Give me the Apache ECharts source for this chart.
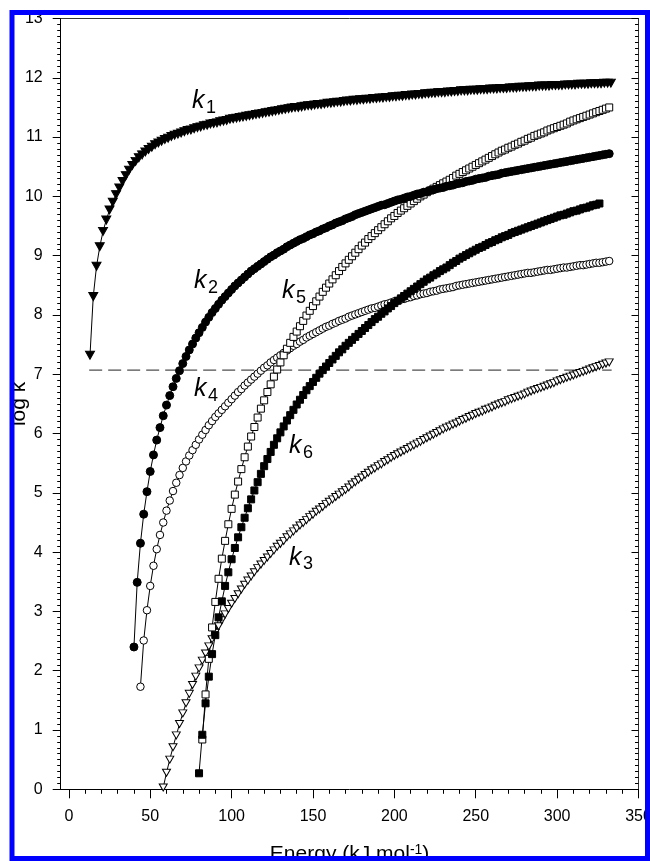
<!DOCTYPE html>
<html>
<head>
<meta charset="utf-8">
<script src="https://cdn.jsdelivr.net/npm/echarts@6/dist/echarts.min.js"></script>
<style>
html,body{margin:0;padding:0;background:#fff;}
#c{width:650px;height:861px;}
</style>
</head>
<body>
<div id="c"></div>
<script>
// ---------------- data ----------------
const energyStep = 2; // kJ/mol between successive computed points

const k1Start = 13;
const k1Values = [
 7.32, 8.31, 8.82, 9.15, 9.41, 9.60, 9.77, 9.90, 10.03, 10.14,
 10.25, 10.35, 10.44, 10.52, 10.59, 10.65, 10.70, 10.75, 10.79, 10.83,
 10.87, 10.90, 10.93, 10.96, 10.98, 11.01, 11.03, 11.05, 11.07, 11.09,
 11.11, 11.12, 11.14, 11.16, 11.17, 11.19, 11.20, 11.22, 11.23, 11.24,
 11.26, 11.27, 11.28, 11.30, 11.31, 11.32, 11.33, 11.34, 11.35, 11.36,
 11.37, 11.38, 11.39, 11.40, 11.41, 11.42, 11.43, 11.44, 11.45, 11.46,
 11.47, 11.48, 11.49, 11.50, 11.50, 11.51, 11.52, 11.53, 11.53, 11.54,
 11.55, 11.55, 11.56, 11.57, 11.57, 11.58, 11.59, 11.59, 11.60, 11.61,
 11.61, 11.62, 11.62, 11.63, 11.63, 11.64, 11.64, 11.65, 11.65, 11.66,
 11.66, 11.67, 11.67, 11.68, 11.68, 11.69, 11.69, 11.70, 11.70, 11.71,
 11.71, 11.72, 11.72, 11.73, 11.73, 11.74, 11.74, 11.75, 11.75, 11.75,
 11.76, 11.76, 11.77, 11.77, 11.78, 11.78, 11.78, 11.79, 11.79, 11.79,
 11.80, 11.80, 11.80, 11.81, 11.81, 11.81, 11.82, 11.82, 11.82, 11.83,
 11.83, 11.83, 11.84, 11.84, 11.84, 11.85, 11.85, 11.85, 11.86, 11.86,
 11.86, 11.86, 11.87, 11.87, 11.87, 11.87, 11.88, 11.88, 11.88, 11.88,
 11.89, 11.89, 11.89, 11.89, 11.90, 11.90, 11.90, 11.90, 11.91, 11.91,
 11.91
];

const k2Start = 40;
const k2Values = [
 2.40, 3.49, 4.15, 4.64, 5.02, 5.36, 5.64, 5.89, 6.10, 6.30,
 6.48, 6.64, 6.79, 6.93, 7.06, 7.18, 7.30, 7.41, 7.51, 7.61,
 7.70, 7.79, 7.88, 7.96, 8.04, 8.11, 8.18, 8.25, 8.31, 8.37,
 8.43, 8.49, 8.54, 8.59, 8.64, 8.69, 8.74, 8.78, 8.82, 8.86,
 8.90, 8.94, 8.98, 9.01, 9.05, 9.08, 9.11, 9.15, 9.18, 9.21,
 9.24, 9.27, 9.29, 9.32, 9.35, 9.37, 9.40, 9.42, 9.45, 9.47,
 9.50, 9.52, 9.55, 9.57, 9.59, 9.62, 9.64, 9.66, 9.69, 9.71,
 9.73, 9.75, 9.77, 9.79, 9.81, 9.83, 9.85, 9.86, 9.88, 9.90,
 9.92, 9.94, 9.95, 9.97, 9.99, 10.00, 10.02, 10.04, 10.05, 10.07,
 10.08, 10.10, 10.11, 10.13, 10.14, 10.15, 10.17, 10.18, 10.19, 10.21,
 10.22, 10.23, 10.25, 10.26, 10.27, 10.29, 10.30, 10.31, 10.32, 10.34,
 10.35, 10.36, 10.37, 10.39, 10.40, 10.41, 10.42, 10.43, 10.44, 10.45,
 10.46, 10.47, 10.48, 10.49, 10.50, 10.51, 10.52, 10.53, 10.54, 10.55,
 10.56, 10.57, 10.58, 10.59, 10.60, 10.61, 10.62, 10.63, 10.64, 10.65,
 10.66, 10.67, 10.68, 10.69, 10.70, 10.71, 10.72
];

const k3Start = 58;
const k3Values = [
 0.03, 0.28, 0.50, 0.71, 0.91, 1.10, 1.28, 1.45, 1.61, 1.76,
 1.90, 2.04, 2.17, 2.29, 2.41, 2.53, 2.64, 2.75, 2.85, 2.95,
 3.04, 3.13, 3.21, 3.29, 3.37, 3.45, 3.52, 3.59, 3.66, 3.73,
 3.79, 3.85, 3.91, 3.97, 4.03, 4.09, 4.14, 4.19, 4.25, 4.30,
 4.35, 4.40, 4.45, 4.49, 4.54, 4.59, 4.63, 4.68, 4.72, 4.76,
 4.81, 4.85, 4.89, 4.93, 4.97, 5.01, 5.05, 5.09, 5.14, 5.18,
 5.22, 5.26, 5.30, 5.34, 5.38, 5.41, 5.45, 5.48, 5.52, 5.55,
 5.59, 5.62, 5.65, 5.68, 5.71, 5.74, 5.77, 5.80, 5.83, 5.86,
 5.89, 5.92, 5.95, 5.98, 6.01, 6.04, 6.07, 6.10, 6.12, 6.15,
 6.17, 6.20, 6.23, 6.25, 6.28, 6.30, 6.33, 6.35, 6.37, 6.40,
 6.42, 6.44, 6.47, 6.49, 6.51, 6.53, 6.56, 6.58, 6.60, 6.62,
 6.64, 6.66, 6.69, 6.71, 6.73, 6.75, 6.77, 6.79, 6.81, 6.83,
 6.85, 6.88, 6.90, 6.92, 6.94, 6.96, 6.98, 7.00, 7.02, 7.04,
 7.06, 7.08, 7.10, 7.12, 7.14, 7.16, 7.18, 7.20
];

const k4Start = 44;
const k4Values = [
 1.73, 2.51, 3.02, 3.43, 3.77, 4.05, 4.29, 4.50, 4.70, 4.87,
 5.03, 5.17, 5.30, 5.42, 5.53, 5.63, 5.72, 5.81, 5.90, 5.98,
 6.06, 6.14, 6.21, 6.28, 6.34, 6.40, 6.46, 6.52, 6.58, 6.64,
 6.70, 6.75, 6.81, 6.86, 6.91, 6.96, 7.01, 7.06, 7.11, 7.15,
 7.20, 7.24, 7.28, 7.32, 7.36, 7.40, 7.44, 7.48, 7.51, 7.55,
 7.58, 7.62, 7.65, 7.68, 7.71, 7.74, 7.77, 7.80, 7.82, 7.85,
 7.87, 7.90, 7.92, 7.94, 7.97, 7.99, 8.01, 8.03, 8.05, 8.07,
 8.09, 8.11, 8.12, 8.14, 8.16, 8.18, 8.19, 8.21, 8.23, 8.24,
 8.26, 8.27, 8.29, 8.30, 8.32, 8.33, 8.35, 8.36, 8.37, 8.39,
 8.40, 8.41, 8.43, 8.44, 8.45, 8.46, 8.47, 8.49, 8.50, 8.51,
 8.52, 8.53, 8.54, 8.55, 8.56, 8.57, 8.58, 8.59, 8.60, 8.61,
 8.62, 8.63, 8.64, 8.65, 8.66, 8.67, 8.68, 8.69, 8.70, 8.71,
 8.71, 8.72, 8.73, 8.74, 8.75, 8.76, 8.76, 8.77, 8.78, 8.79,
 8.80, 8.80, 8.81, 8.82, 8.83, 8.84, 8.84, 8.85, 8.86, 8.87,
 8.88, 8.88, 8.89, 8.90, 8.91
];

const k5Start = 82;
const k5Values = [
 0.84, 1.60, 2.20, 2.73, 3.16, 3.55, 3.89, 4.19, 4.47, 4.73,
 4.97, 5.19, 5.40, 5.60, 5.78, 5.95, 6.11, 6.27, 6.42, 6.56,
 6.70, 6.83, 6.96, 7.08, 7.20, 7.32, 7.43, 7.53, 7.63, 7.72,
 7.81, 7.90, 7.99, 8.07, 8.15, 8.23, 8.31, 8.39, 8.46, 8.53,
 8.60, 8.67, 8.74, 8.81, 8.87, 8.93, 8.99, 9.05, 9.11, 9.17,
 9.22, 9.28, 9.33, 9.38, 9.43, 9.48, 9.53, 9.58, 9.63, 9.67,
 9.72, 9.76, 9.80, 9.84, 9.88, 9.92, 9.96, 10.00, 10.03, 10.07,
 10.10, 10.13, 10.16, 10.19, 10.22, 10.25, 10.28, 10.31, 10.35, 10.38,
 10.41, 10.44, 10.47, 10.50, 10.53, 10.56, 10.59, 10.62, 10.65, 10.68,
 10.71, 10.74, 10.77, 10.79, 10.82, 10.84, 10.87, 10.89, 10.92, 10.94,
 10.97, 10.99, 11.02, 11.04, 11.06, 11.08, 11.11, 11.13, 11.15, 11.17,
 11.19, 11.21, 11.23, 11.26, 11.28, 11.30, 11.32, 11.34, 11.36, 11.38,
 11.40, 11.42, 11.44, 11.46, 11.48, 11.50
];

const k6Start = 80;
const k6Values = [
 0.27, 0.92, 1.45, 1.90, 2.28, 2.60, 2.90, 3.17, 3.43, 3.66,
 3.88, 4.07, 4.25, 4.42, 4.58, 4.74, 4.89, 5.04, 5.18, 5.32,
 5.45, 5.57, 5.69, 5.81, 5.92, 6.02, 6.12, 6.22, 6.31, 6.40,
 6.49, 6.57, 6.65, 6.73, 6.80, 6.87, 6.94, 7.01, 7.07, 7.13,
 7.19, 7.25, 7.31, 7.37, 7.42, 7.48, 7.53, 7.58, 7.63, 7.68,
 7.73, 7.78, 7.83, 7.88, 7.93, 7.97, 8.02, 8.06, 8.11, 8.15,
 8.20, 8.24, 8.28, 8.32, 8.36, 8.40, 8.44, 8.48, 8.52, 8.56,
 8.60, 8.63, 8.67, 8.70, 8.74, 8.77, 8.80, 8.84, 8.88, 8.91,
 8.95, 8.98, 9.01, 9.04, 9.07, 9.10, 9.13, 9.15, 9.18, 9.21,
 9.23, 9.26, 9.28, 9.31, 9.33, 9.35, 9.38, 9.40, 9.42, 9.44,
 9.46, 9.48, 9.50, 9.52, 9.54, 9.56, 9.58, 9.60, 9.62, 9.64,
 9.66, 9.68, 9.69, 9.71, 9.73, 9.75, 9.76, 9.78, 9.80, 9.81,
 9.83, 9.85, 9.86, 9.88
];

// horizontal dashed reference level (log k)
const thresholdLine = [[12.5, 7.07], [333.5, 7.07]];

// axis ticks
const xMajorTicks = [0, 50, 100, 150, 200, 250, 300, 350];
const xMinorTicks = [10, 20, 30, 40, 60, 70, 80, 90, 110, 120, 130, 140, 160, 170, 180, 190,
                     210, 220, 230, 240, 260, 270, 280, 290, 310, 320, 330, 340];
const xRange = [-5, 350];
const yRange = [0, 13];
const yInterval = 1;

// ---------------- chart ----------------
const FONT = '"Liberation Sans", Arial, sans-serif';
const INK = '#000';

function pairs(start, vals) {
  return vals.map((v, i) => [start + i * energyStep, v]);
}

function curve(name, start, vals, symbol, size, filled, rotate) {
  return {
    name: name,
    type: 'line',
    data: pairs(start, vals),
    symbol: symbol,
    symbolSize: size,
    symbolRotate: rotate || 0,
    showAllSymbol: true,
    silent: true,
    animation: false,
    clip: false,
    lineStyle: { color: INK, width: 1 },
    itemStyle: { color: filled ? INK : '#fff', borderColor: INK, borderWidth: 1 },
    emphasis: { disabled: true },
    z: 3
  };
}

const chart = echarts.init(document.getElementById('c'), null, { renderer: 'canvas' });

const labelSpecs = [
  { sub: '1', x: 192, y: 89 },
  { sub: '2', x: 194, y: 269 },
  { sub: '5', x: 282, y: 279 },
  { sub: '4', x: 194, y: 377 },
  { sub: '6', x: 289, y: 434 },
  { sub: '3', x: 289, y: 545.5 }
];
const labelGraphics = [];
labelSpecs.forEach(l => {
  labelGraphics.push({
    type: 'text', x: l.x, y: l.y, z: 50, silent: true,
    style: { text: 'k', fontSize: 25, fontStyle: 'italic', fontFamily: FONT, fill: INK, align: 'left', verticalAlign: 'top' }
  });
  labelGraphics.push({
    type: 'text', x: l.x + 14, y: l.y + 10, z: 50, silent: true,
    style: { text: l.sub, fontSize: 18, fontFamily: FONT, fill: INK, align: 'left', verticalAlign: 'top' }
  });
});

const option = {
  backgroundColor: '#fff',
  animation: false,
  grid: { left: 60.7, right: 11.5, top: 18.5, bottom: 71.7, containLabel: false, outerBoundsMode: 'none' },
  xAxis: [
    {
      type: 'value', min: xRange[0], max: xRange[1], position: 'bottom',
      axisLine: { show: true, onZero: false, lineStyle: { color: INK, width: 1 } },
      axisTick: { show: true, inside: false, length: 9, customValues: xMajorTicks, lineStyle: { color: INK, width: 1 } },
      axisLabel: { show: true, customValues: xMajorTicks, fontSize: 16, fontFamily: FONT, color: INK, margin: 19 },
      splitLine: { show: false },
      name: '{a|Energy (kJ mol}{b|-1}{a|)}',
      nameLocation: 'middle',
      nameGap: 54,
      nameMoveOverlap: false,
      nameTextStyle: {
        rich: {
          a: { fontSize: 21, fontFamily: FONT, color: INK },
          b: { fontSize: 14, fontFamily: FONT, color: INK, verticalAlign: 'top' }
        }
      }
    },
    {
      type: 'value', min: xRange[0], max: xRange[1], position: 'bottom',
      axisLine: { show: false, onZero: false },
      axisTick: { show: true, inside: false, length: 4.5, customValues: xMinorTicks, lineStyle: { color: INK, width: 1 } },
      axisLabel: { show: false },
      splitLine: { show: false }
    },
    {
      type: 'value', min: xRange[0], max: xRange[1], position: 'top',
      axisLine: { show: true, onZero: false, lineStyle: { color: '#333', width: 1 } },
      axisTick: { show: false },
      axisLabel: { show: false },
      splitLine: { show: false }
    }
  ],
  yAxis: [
    {
      type: 'value', min: yRange[0], max: yRange[1], interval: yInterval, position: 'left',
      axisLine: { show: true, onZero: false, lineStyle: { color: INK, width: 1 } },
      axisTick: { show: true, inside: false, length: 8, lineStyle: { color: INK, width: 1 } },
      minorTick: { show: true, splitNumber: 10, length: 3.5, lineStyle: { color: INK, width: 1 } },
      axisLabel: { fontSize: 16, fontFamily: FONT, color: INK, margin: 18 },
      splitLine: { show: false },
      minorSplitLine: { show: false },
      name: 'log k',
      nameLocation: 'middle',
      nameGap: 31,
      nameMoveOverlap: false,
      nameTextStyle: { fontSize: 21, fontFamily: FONT, color: INK }
    },
    {
      type: 'value', min: yRange[0], max: yRange[1], interval: yInterval, position: 'right',
      axisLine: { show: true, onZero: false, lineStyle: { color: '#333', width: 1 } },
      axisTick: { show: true, inside: true, length: 7, lineStyle: { color: INK, width: 1 } },
      minorTick: { show: true, splitNumber: 10, length: 3.5, lineStyle: { color: INK, width: 1 } },
      axisLabel: { show: false },
      splitLine: { show: false },
      minorSplitLine: { show: false }
    }
  ],
  series: [
    {
      name: 'threshold', type: 'line', data: thresholdLine, symbol: 'none', silent: true,
      lineStyle: { color: '#222', width: 1, type: [13, 6] }, z: 1, animation: false
    },
    curve('k3', k3Start, k3Values, 'triangle', [8, 7], false, 180),
    curve('k4', k4Start, k4Values, 'circle', 7.5, false),
    curve('k5', k5Start, k5Values, 'rect', 7, false),
    curve('k6', k6Start, k6Values, 'rect', 7, true),
    curve('k2', k2Start, k2Values, 'circle', 8, true),
    curve('k1', k1Start, k1Values, 'triangle', [9, 8], true, 180)
  ],
  graphic: [
    {
      type: 'rect', z: 100, silent: true,
      shape: { x: 12, y: 12.5, width: 635.5, height: 846 },
      style: { fill: 'none', stroke: '#0000ff', lineWidth: 5 }
    }
  ].concat(labelGraphics)
};

chart.setOption(option);
</script>
</body>
</html>
